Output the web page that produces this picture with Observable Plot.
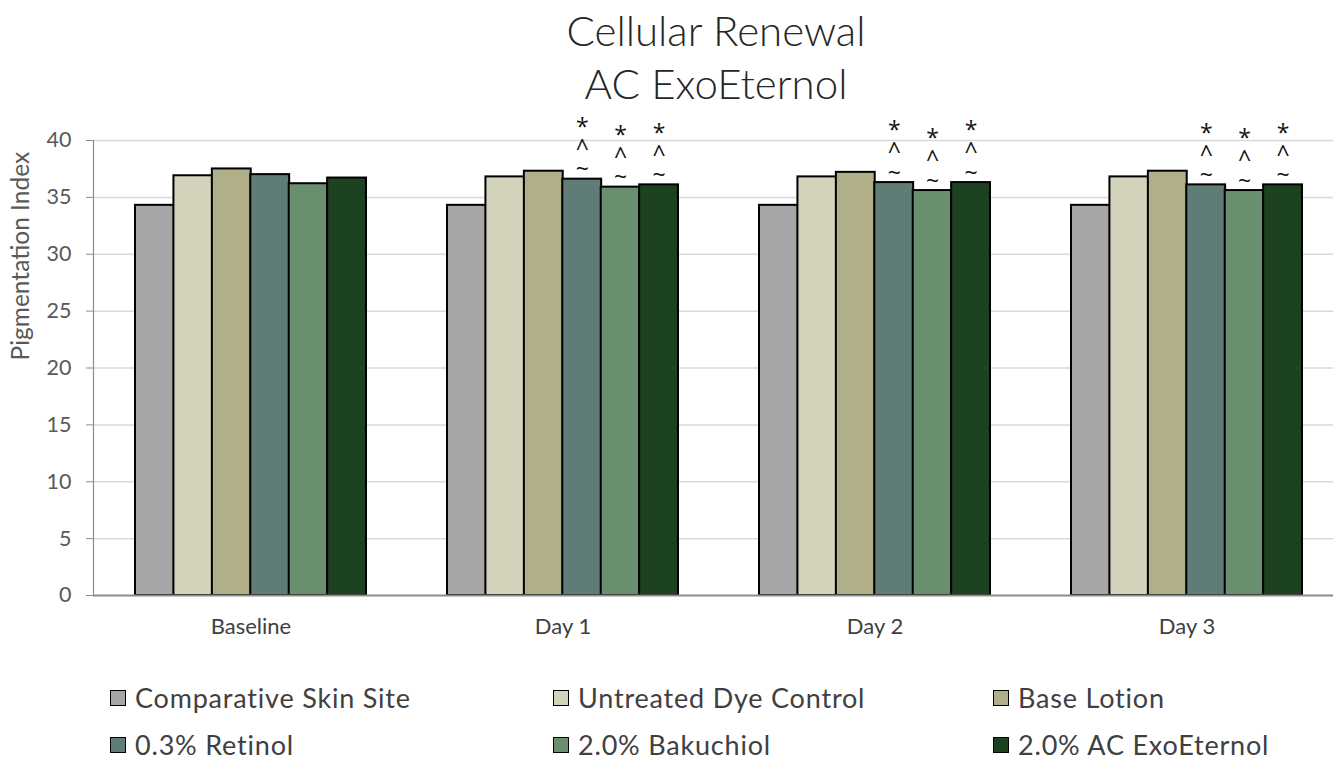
<!DOCTYPE html>
<html>
<head>
<meta charset="utf-8">
<script src="https://cdn.jsdelivr.net/npm/d3@7"></script>
<script src="https://cdn.jsdelivr.net/npm/@observablehq/plot@0.6"></script>
<style>
  html, body { margin: 0; padding: 0; background: #fff; }
  body { position: relative; width: 1333px; height: 760px; overflow: hidden; font-family: Lato, "Open Sans", sans-serif; }
  #title { height: 112px; box-sizing: border-box; padding-top: 4px; padding-left: 99px; width: 1333px;
           text-align: center; font-size: 42px; font-weight: 300; line-height: 53px; color: #262626; }
  #legend { position: absolute; left: 0; top: 0; width: 1333px; height: 760px; pointer-events: none; }
  .item { position: absolute; display: flex; align-items: center; height: 28px; line-height: 28px; font-size: 27px; letter-spacing: 0.8px; color: #404040; white-space: nowrap; }
  .sw { width: 14px; height: 14px; border: 1.6px solid #000; margin-right: 9px; }
</style>
</head>
<body>
<div id="title">Cellular Renewal<br>AC ExoEternol</div>
<div id="chart"></div>
<div id="legend"></div>
<script>
const groups = ["Baseline", "Day 1", "Day 2", "Day 3"];
const series = ["Comparative Skin Site", "Untreated Dye Control", "Base Lotion", "0.3% Retinol", "2.0% Bakuchiol", "2.0% AC ExoEternol"];
const colors = ["#a6a6a6", "#d3d3bc", "#b1af88", "#5f7c76", "#6a8f6f", "#1d4222"];
const comparative = [34.3, 34.3, 34.3, 34.3];
const untreated   = [36.9, 36.8, 36.8, 36.8];
const baseLotion  = [37.5, 37.3, 37.2, 37.3];
const retinol     = [37.0, 36.6, 36.3, 36.1];
const bakuchiol   = [36.2, 35.9, 35.6, 35.6];
const exoEternol  = [36.7, 36.1, 36.3, 36.1];
const seriesValues = [comparative, untreated, baseLotion, retinol, bakuchiol, exoEternol];
const yTicks = [0, 5, 10, 15, 20, 25, 30, 35, 40];
const yTitle = "Pigmentation Index";
const markSymbols = ["*", "^", "~"];
const markedSeries = [3, 4, 5];
const markedGroups = ["Day 1", "Day 2", "Day 3"];

const rows = [];
seriesValues.forEach((vals, k) => vals.forEach((v, i) => rows.push({group: groups[i], series: series[k], k, value: v})));

const xRange = [94.3, 1342.3], padIn = 0.261, padOut = 0.1305;
const bw = d3.scaleBand(groups, xRange).paddingInner(padIn).paddingOuter(padOut).bandwidth() / series.length;

const marks = [
  Plot.ruleY(yTicks.filter(t => t > 0), {stroke: "#d9d9d9", strokeWidth: 1.5}),
  Plot.frame({anchor: "left", stroke: "#8c8c8c", strokeWidth: 1.2})
];
series.forEach((s, k) => {
  marks.push(Plot.barY(rows.filter(d => d.k === k), {
    x: "group", y: "value", fill: colors[k], stroke: "#000", strokeWidth: 2,
    insetLeft: k * bw, insetRight: (series.length - 1 - k) * bw
  }));
});
marks.push(Plot.ruleY([0], {stroke: "#8c8c8c", strokeWidth: 1.8}));
markedSeries.forEach(k => {
  const data = rows.filter(d => d.k === k && markedGroups.includes(d.group));
  marks.push(Plot.text(data, {x: "group", y: "value", text: () => markSymbols.join("\n"),
    dx: (k + 0.5 - series.length / 2) * bw, dy: -2, lineAnchor: "bottom", lineHeight: 0.92,
    fontSize: 23, fontFamily: "Open Sans", fill: "#111"}));
});
marks.push(Plot.axisY({ticks: yTicks, tickSize: 7, tickPadding: 15, fontSize: 21.5, stroke: "#8c8c8c", fill: "#595959", label: null}));
marks.push(Plot.text([yTitle], {text: d => d, frameAnchor: "left", rotate: -90, dx: -72, dy: -7.5, fontSize: 24.5, fill: "#595959"}));
marks.push(Plot.axisX({tickSize: 0, tickPadding: 23, fontSize: 22, fill: "#404040", label: null}));

const chart = Plot.plot({
  width: 1333, height: 548,
  marginTop: 28, marginBottom: 65, marginLeft: 93, marginRight: 0,
  style: {fontFamily: "Lato, 'Open Sans', sans-serif", overflow: "visible", background: "#fff"},
  x: {domain: groups, range: xRange, paddingInner: padIn, paddingOuter: padOut, axis: null},
  y: {domain: [0, 40], axis: null},
  marks
});
document.getElementById("chart").appendChild(chart);

const legend = document.getElementById("legend");
const colX = [110, 553, 993];
series.forEach((s, k) => {
  const it = document.createElement("div");
  it.className = "item";
  it.style.left = colX[k % 3] + "px";
  it.style.top = (684 + Math.floor(k / 3) * 47) + "px";
  const sw = document.createElement("div");
  sw.className = "sw";
  sw.style.background = colors[k];
  const t = document.createElement("span");
  t.textContent = s;
  it.appendChild(sw); it.appendChild(t);
  legend.appendChild(it);
});
</script>
</body>
</html>
